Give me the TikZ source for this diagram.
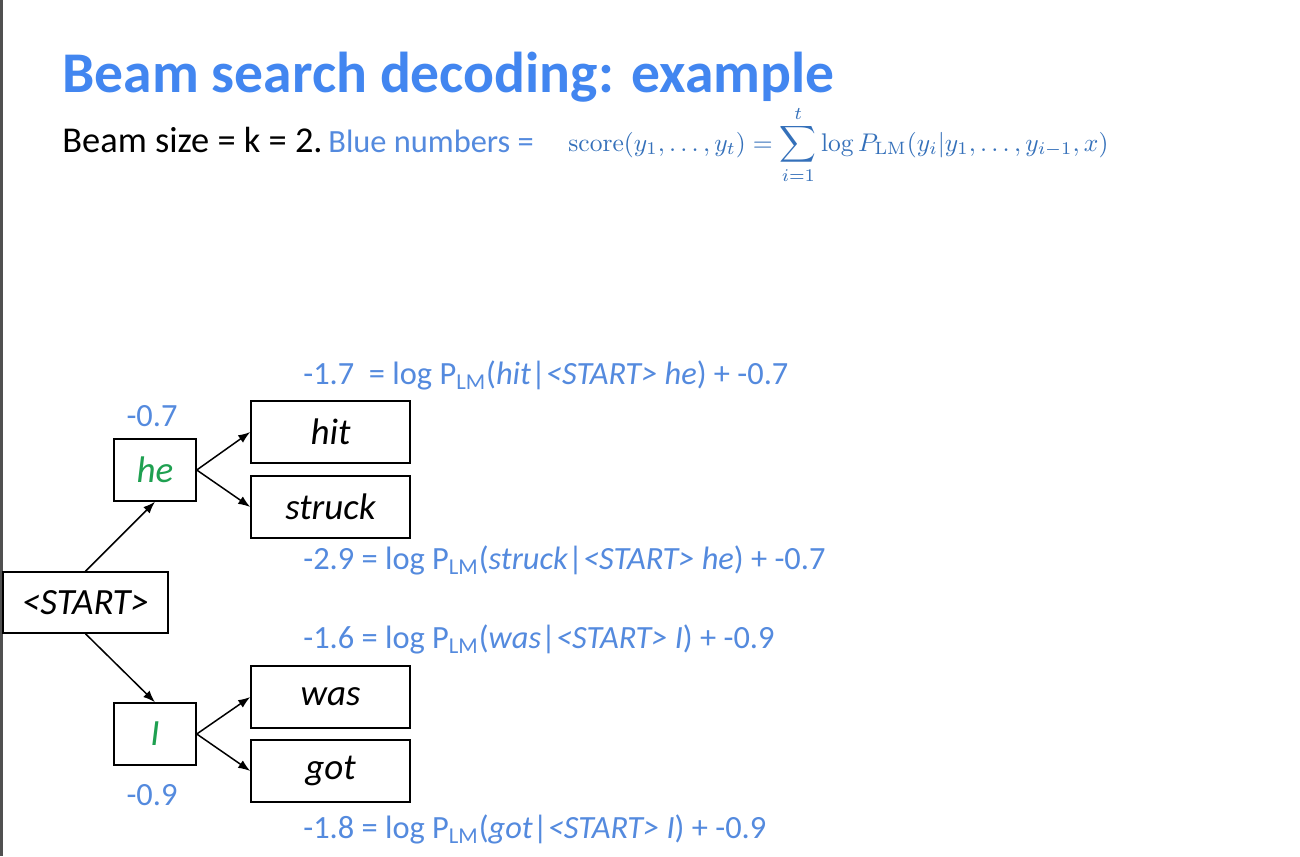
\documentclass[tikz,border=0pt]{standalone}
\usepackage[no-math]{fontspec}
\usepackage{amsmath}
\usepackage{graphicx}
\setmainfont{Carlito}
\usetikzlibrary{arrows.meta}

\definecolor{titleblue}{RGB}{66,134,240}
\definecolor{numblue}{RGB}{84,138,222}
\definecolor{mathblue}{RGB}{52,112,186}
\definecolor{wordgreen}{RGB}{30,160,80}
\definecolor{edgegray}{RGB}{80,80,80}

\newcommand{\plm}{P\textsubscript{LM}}

\begin{document}
\begin{tikzpicture}[x=0.5pt,y=-0.5pt,
  tok/.style={draw=black, line width=0.75pt, inner sep=0pt, minimum height=31pt,
              font=\fontsize{18.5}{22}\selectfont\itshape},
  wide/.style={tok, minimum width=79.5pt},
  narrow/.style={tok, minimum width=41pt},
  startbox/.style={tok, minimum width=82.5pt, minimum height=30.5pt},
  score/.style={text=numblue, inner sep=0pt, font=\fontsize{16.2}{19}\selectfont},
  link/.style={line width=0.75pt, -{Latex[length=6pt,width=4.5pt]}}
]
\useasboundingbox (0,0) rectangle (1300,856);
\fill[white] (0,0) rectangle (1300,856);
\draw[edgegray, line width=1.5pt] (1.5,0) -- (1.5,856);

% heading and score definition
\node[anchor=base west, inner sep=0pt, text=titleblue,
      font=\fontsize{28.8}{32}\selectfont\bfseries] (title) at (62,93)
  {Beam search decoding: example};
\node[anchor=base west, inner sep=0pt, font=\fontsize{18.2}{21}\selectfont] (sub) at (62,153)
  {Beam size = k = 2.};
\node[anchor=base west, inner sep=0pt, text=numblue, font=\fontsize{16.2}{19}\selectfont] (blue) at (328,153)
  {Blue numbers =};
\node[anchor=base west, inner sep=0pt, text=mathblue] (formula) at (568,151)
  {\resizebox{270pt}{!}{$\displaystyle \mathrm{score}(y_1,\ldots,y_t)=\sum_{i=1}^{t}\log P_{\mathrm{LM}}(y_i|y_1,\ldots,y_{i-1},x)$}};

% search tree
\node[startbox] (start) at (85.5,602.5) {<START>};
\node[narrow, text=wordgreen] (he) at (155,470) {he};
\node[narrow, text=wordgreen] (i) at (155,734) {I};
\node[wide] (hit) at (330.5,432) {hit};
\node[wide] (struck) at (330.5,507) {struck};
\node[wide] (was) at (330.5,697) {was};
\node[wide] (got) at (330.5,771) {got};

\draw[link] (start.north) -- (he.south);
\draw[link] (start.south) -- (i.north);
\draw[link] (he.east) -- (hit.west);
\draw[link] (he.east) -- (struck.west);
\draw[link] (i.east) -- (was.west);
\draw[link] (i.east) -- (got.west);

% cumulative scores
\node[score, anchor=base] (she) at (152,426) {-0.7};
\node[score, anchor=base] (si) at (152,805) {-0.9};
\node[score, anchor=base west] (shit) at (303,384)
  {-1.7\ \ = log \plm(\textit{hit}|\textit{<START> he}) + -0.7};
\node[score, anchor=base west] (sstruck) at (303,569)
  {-2.9 = log \plm(\textit{struck}|\textit{<START> he}) + -0.7};
\node[score, anchor=base west] (swas) at (303,648)
  {-1.6 = log \plm(\textit{was}|\textit{<START> I}) + -0.9};
\node[score, anchor=base west] (sgot) at (303,838)
  {-1.8 = log \plm(\textit{got}|\textit{<START> I}) + -0.9};
\end{tikzpicture}
\end{document}
